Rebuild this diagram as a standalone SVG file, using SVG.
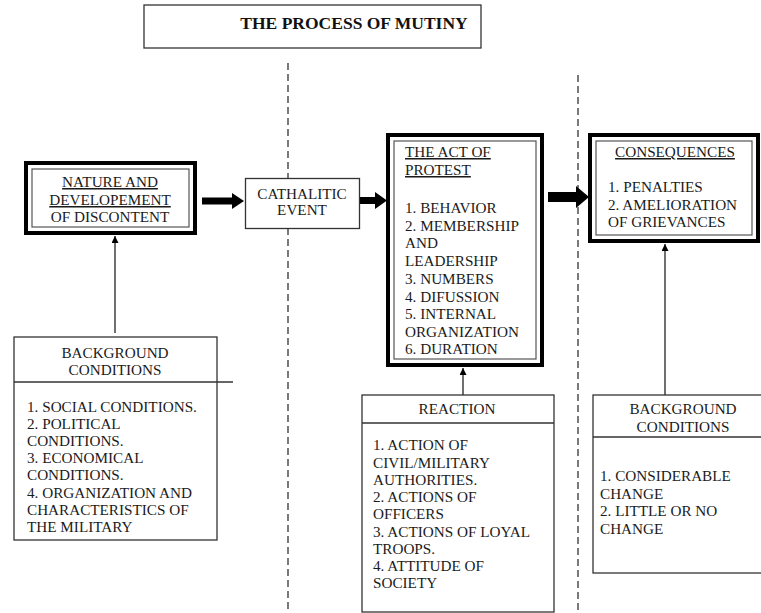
<svg xmlns="http://www.w3.org/2000/svg" width="761" height="613" viewBox="0 0 761 613">
<defs>
<style>
text{font-family:"Liberation Serif","Times New Roman",serif;font-size:15.2px;fill:#1a1a1a}
.t{font-weight:bold;font-size:17.5px;fill:#111}
.c{text-anchor:middle}
.u{text-decoration:underline}
.box{fill:#fff;stroke:#333;stroke-width:1.3}
.thick{fill:#fff;stroke:#000;stroke-width:4}
.inner{fill:none;stroke:#555;stroke-width:1.2}
.dash{stroke:#333;stroke-width:1.3;stroke-dasharray:7 4;fill:none}
.thin{stroke:#333;stroke-width:1.4;fill:none;marker-end:url(#ah)}
.big{fill:#000}
</style>
<marker id="ah" viewBox="0 0 10 10" refX="10" refY="5" markerWidth="7" markerHeight="7" orient="auto" markerUnits="userSpaceOnUse">
<path d="M0,0 L10,5 L0,10 z" fill="#000"/>
</marker>
</defs>
<rect width="761" height="613" fill="#fff"/>

<g id="dividers">
<line class="dash" x1="288" y1="63" x2="288" y2="613"/>
<line class="dash" x1="578" y1="75" x2="578" y2="613"/>
</g>

<g id="title">
<rect class="box" x="144" y="5" width="337" height="43"/>
<text class="t c" x="354" y="29">THE PROCESS OF MUTINY</text>
</g>

<g id="nature">
<rect class="thick" x="26" y="163" width="169" height="70"/>
<rect class="inner" x="32" y="169" width="157" height="58"/>
<text class="c" x="110" y="187"><tspan class="u">NATURE AND</tspan></text>
<text class="c" x="110" y="205"><tspan class="u">DEVELOPEMENT</tspan></text>
<text class="c" x="110" y="222">OF DISCONTENT</text>
</g>

<g id="cathalitic">
<rect class="box" x="245.5" y="178.5" width="114" height="50"/>
<text class="c" x="302" y="199">CATHALITIC</text>
<text class="c" x="302" y="215">EVENT</text>
</g>

<g id="act">
<rect class="thick" x="388" y="135" width="154" height="230"/>
<rect class="inner" x="394" y="141" width="142" height="218"/>
<text x="405" y="157"><tspan class="u">THE ACT OF</tspan></text>
<text x="405" y="175"><tspan class="u">PROTEST</tspan></text>
<text x="405" y="213">1. BEHAVIOR</text>
<text x="405" y="231">2. MEMBERSHIP</text>
<text x="405" y="248">AND</text>
<text x="405" y="266">LEADERSHIP</text>
<text x="405" y="284">3. NUMBERS</text>
<text x="405" y="302">4. DIFUSSION</text>
<text x="405" y="319">5. INTERNAL</text>
<text x="405" y="337">ORGANIZATION</text>
<text x="405" y="354">6. DURATION</text>
</g>

<g id="consequences">
<rect class="thick" x="590" y="135" width="168" height="106"/>
<rect class="inner" x="596" y="141" width="156" height="94"/>
<text class="c" x="675" y="157"><tspan class="u">CONSEQUENCES</tspan></text>
<text x="608" y="192">1. PENALTIES</text>
<text x="608" y="210">2. AMELIORATION</text>
<text x="608" y="227">OF GRIEVANCES</text>
</g>

<g id="background-left">
<rect class="box" x="14" y="337" width="203" height="203"/>
<line x1="14" y1="382" x2="233" y2="382" stroke="#333" stroke-width="1.3"/>
<text class="c" x="115" y="358">BACKGROUND</text>
<text class="c" x="115" y="375">CONDITIONS</text>
<text x="27" y="412">1. SOCIAL CONDITIONS.</text>
<text x="27" y="429">2. POLITICAL</text>
<text x="27" y="446">CONDITIONS.</text>
<text x="27" y="463">3. ECONOMICAL</text>
<text x="27" y="480">CONDITIONS.</text>
<text x="27" y="498">4. ORGANIZATION AND</text>
<text x="27" y="515">CHARACTERISTICS OF</text>
<text x="27" y="532">THE MILITARY</text>
</g>

<g id="reaction">
<rect class="box" x="362" y="395" width="192" height="217"/>
<line x1="362" y1="423" x2="554" y2="423" stroke="#333" stroke-width="1.3"/>
<text class="c" x="457" y="414">REACTION</text>
<text x="373" y="450">1. ACTION OF</text>
<text x="373" y="468">CIVIL/MILITARY</text>
<text x="373" y="485">AUTHORITIES.</text>
<text x="373" y="502">2. ACTIONS OF</text>
<text x="373" y="519">OFFICERS</text>
<text x="373" y="537">3. ACTIONS OF LOYAL</text>
<text x="373" y="554">TROOPS.</text>
<text x="373" y="571">4. ATTITUDE OF</text>
<text x="373" y="588">SOCIETY</text>
</g>

<g id="background-right">
<rect class="box" x="593" y="395" width="180" height="178"/>
<line x1="593" y1="437" x2="761" y2="437" stroke="#333" stroke-width="1.3"/>
<text class="c" x="683" y="414">BACKGROUND</text>
<text class="c" x="683" y="432">CONDITIONS</text>
<text x="600" y="481">1. CONSIDERABLE</text>
<text x="600" y="499">CHANGE</text>
<text x="600" y="516">2. LITTLE OR NO</text>
<text x="600" y="534">CHANGE</text>
</g>

<g id="connectors">
<polygon class="big" points="202,197.5 232,197.5 232,193 244,201 232,209 232,204.5 202,204.5"/>
<polygon class="big" points="360,197 375,197 375,192 387,200.5 375,209 375,204 360,204"/>
<polygon class="big" points="548,192 576,192 576,186 589,197 576,208 576,202 548,202"/>
<line class="thin" x1="115" y1="333" x2="115" y2="236"/>
<line class="thin" x1="463" y1="395" x2="463" y2="368"/>
<line class="thin" x1="665" y1="395" x2="665" y2="244"/>
</g>
</svg>
